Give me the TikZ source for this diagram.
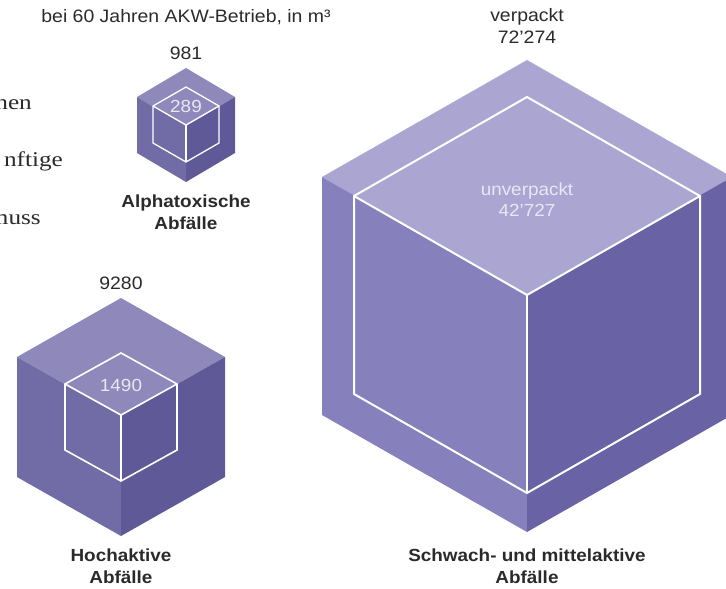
\documentclass[tikz,border=0pt]{standalone}
\usepackage{fontspec}
\setmainfont{Liberation Sans}[FakeStretch=1.08]
\newfontfamily\bodyserif{Liberation Serif}[FakeStretch=1.2]

\definecolor{ink}{HTML}{2A2A2A}
\definecolor{paleink}{HTML}{E9E7F5}
% faces of the large cube
\definecolor{bigtop}{HTML}{ABA5D2}
\definecolor{bigleft}{HTML}{8680BD}
\definecolor{bigright}{HTML}{6963A5}
% faces of the two small, grainier cubes
\definecolor{smtop}{HTML}{8E89BA}
\definecolor{smleft}{HTML}{716CA6}
\definecolor{smright}{HTML}{5F5A97}

% #1,#2 front corner; #3 half width; #4 rise of the top edges; #5 vertical edge;
% #6 colour prefix (big / sm)
\newcommand{\cubefaces}[6]{%
  \fill[#6top]   (#1,#2) -- (#1-#3,#2-#4) -- (#1,#2-2*#4) -- (#1+#3,#2-#4) -- cycle;
  \fill[#6left]  (#1,#2) -- (#1-#3,#2-#4) -- (#1-#3,#2-#4+#5) -- (#1,#2+#5) -- cycle;
  \fill[#6right] (#1,#2) -- (#1+#3,#2-#4) -- (#1+#3,#2-#4+#5) -- (#1,#2+#5) -- cycle;
}
% white outline of the inner (unpacked) volume
\newcommand{\cubeoutline}[6]{%
  \draw[wire,line width=#6] (#1,#2-2*#4) -- (#1+#3,#2-#4) -- (#1+#3,#2-#4+#5)
        -- (#1,#2+#5) -- (#1-#3,#2-#4+#5) -- (#1-#3,#2-#4) -- cycle;
  \draw[wire,line width=#6] (#1-#3,#2-#4) -- (#1,#2) -- (#1+#3,#2-#4);
  \draw[wire,line width=#6] (#1,#2) -- (#1,#2+#5);
}

\begin{document}
\begin{tikzpicture}[x=1pt,y=-1pt,
  wire/.style={draw=white,line join=miter},
  lab/.style={text=ink,font=\fontsize{18}{22}\selectfont,inner sep=0pt,align=center},
  boldlab/.style={text=ink,font=\fontsize{17.5}{22}\selectfont\bfseries,inner sep=0pt,align=center},
  innerlab/.style={text=paleink,font=\fontsize{17.5}{21}\selectfont,inner sep=0pt,align=center},
  bodytext/.style={text=ink,font=\fontsize{21}{24}\selectfont\bodyserif,inner sep=0pt,anchor=base east}]

\useasboundingbox (0,0) rectangle (726,589);
\clip (0,0) rectangle (726,589);

% running text of the page, cut by the left margin
\node[bodytext] (t1) at (32,109) {hen};
\node[bodytext] (t2) at (63,166) {nftige};
\node[bodytext] (t3) at (41,224) {muss};

% heading
\node[lab] (hdr) at (186,17) {bei 60 Jahren AKW-Betrieb, in m³};

% alpha-toxic waste
\cubefaces{186}{126}{49}{29}{56}{sm}
\cubeoutline{186}{125}{33}{19}{37}{1.3pt}
\node[lab] (avol) at (186,53) {981};
\node[innerlab] (ain) at (186,106) {289};
\node[boldlab] (aname) at (186,212) {Alphatoxische\\Abfälle};

% high-level waste
\cubefaces{121}{416}{104}{59}{120}{sm}
\cubeoutline{121}{415}{56}{31}{66}{1.6pt}
\node[lab] (hvol) at (121,283) {9280};
\node[innerlab] (hin) at (121,385) {1490};
\node[boldlab] (hname) at (121,566) {Hochaktive\\Abfälle};

% low- and intermediate-level waste
\cubefaces{527}{294}{205}{117}{238}{big}
\cubeoutline{527}{295}{173}{99}{198}{2pt}
\node[lab] (svol) at (527,26) {verpackt\\72’274};
\node[innerlab] (sin) at (527,200) {unverpackt\\42’727};
\node[boldlab] (sname) at (527,566) {Schwach- und mittelaktive\\Abfälle};

\end{tikzpicture}
\end{document}
